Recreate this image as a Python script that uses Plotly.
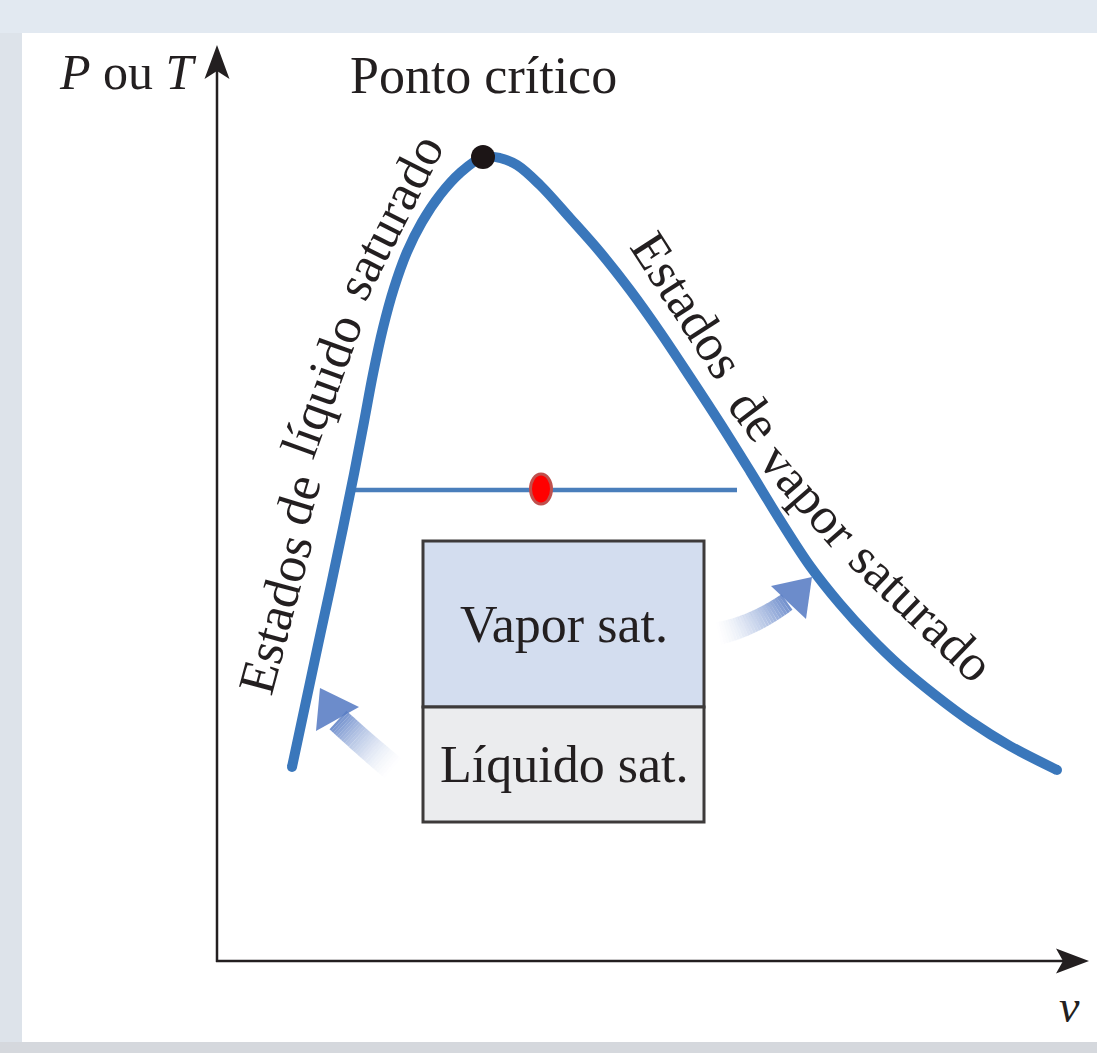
import plotly.graph_objects as go

W, H = 1097, 1053

# ---------------- data (arbitrary units) ----------------
# saturated-liquid branch (left), from low pressure up to the critical point
liq_v = [0.75, 0.88, 1.01, 1.14, 1.26, 1.37, 1.47, 1.56, 1.66, 1.77, 1.90, 2.05, 2.23, 2.43, 2.66]
liq_P = [1.95, 2.56, 3.17, 3.77, 4.34, 4.88, 5.40, 5.88, 6.34, 6.74, 7.10, 7.40, 7.67, 7.89, 8.05]
# saturated-vapor branch (right), from the critical point down
vap_v = [2.66, 2.83, 3.00, 3.23, 3.53, 3.83, 4.13, 4.43, 4.73, 5.03, 5.33, 5.63, 5.93,
         6.23, 6.53, 6.83, 7.18, 7.53, 7.93, 8.40]
vap_P = [8.05, 8.04, 7.97, 7.77, 7.44, 7.10, 6.72, 6.30, 5.85, 5.39, 4.91, 4.42, 3.96,
         3.58, 3.25, 2.96, 2.67, 2.41, 2.16, 1.92]
crit_v = [2.66]
crit_P = [8.05]
# horizontal saturated-mixture line and the state point on it
mix_v = [1.38, 5.20]
mix_P = [4.72, 4.72]
state_v = [3.24]
state_P = [4.73]
# piston/cylinder box: v-extent and P levels (bottom, divider, top)
box_v = [2.06, 4.87]
box_P = [1.40, 2.55, 4.21]
box_labels = ["Líquido sat.", "Vapor sat."]

# ---------------- layout helpers ----------------
X0, Y0, S = 217, 962, 100          # pixel of origin and pixels per unit
x_range = [(0 - X0) / S, (W - X0) / S]
y_range = [(Y0 - H) / S, Y0 / S]

def px(x):  # pixel x -> paper
    return x / W

def py(y):  # pixel y -> paper
    return 1 - y / H

INK = "#231f20"
BLUE = "#3a77bb"
FONT = "Liberation Serif"

fig = go.Figure()

shapes = []
# frame of the photographed slide
shapes.append(dict(type="rect", xref="paper", yref="paper", x0=px(22), x1=px(W), y0=py(1042), y1=py(33),
                   fillcolor="white", line=dict(width=0), layer="below"))
shapes.append(dict(type="rect", xref="paper", yref="paper", x0=0, x1=1, y0=0, y1=py(1042),
                   fillcolor="#d5d8dd", line=dict(width=0), layer="below"))
shapes.append(dict(type="rect", xref="paper", yref="paper", x0=0, x1=px(22), y0=py(1042), y1=py(33),
                   fillcolor="#dde3ea", line=dict(width=0), layer="below"))

# axes with barbed arrowheads
shapes.append(dict(type="line", xref="paper", yref="paper", x0=px(217), x1=px(217), y0=py(962), y1=py(62),
                   line=dict(color=INK, width=2.5)))
shapes.append(dict(type="line", xref="paper", yref="paper", x0=px(216), x1=px(1070), y0=py(961), y1=py(961),
                   line=dict(color=INK, width=2.5)))

def poly(pts):
    return "M " + " L ".join(f"{px(a):.5f},{py(b):.5f}" for a, b in pts) + " Z"

shapes.append(dict(type="path", xref="paper", yref="paper",
                   path=poly([(217, 45), (229.5, 79), (217, 71), (204.5, 79)]),
                   fillcolor=INK, line=dict(width=0)))
shapes.append(dict(type="path", xref="paper", yref="paper",
                   path=poly([(1089, 961), (1056, 973.5), (1063, 961), (1056, 948.5)]),
                   fillcolor=INK, line=dict(width=0)))

# box (two compartments)
shapes.append(dict(type="rect", x0=box_v[0], x1=box_v[1], y0=box_P[1], y1=box_P[2],
                   fillcolor="#d3ddef", line=dict(color="#3d3a3a", width=3)))
shapes.append(dict(type="rect", x0=box_v[0], x1=box_v[1], y0=box_P[0], y1=box_P[1],
                   fillcolor="#ebecee", line=dict(color="#3d3a3a", width=3)))


# gradient arrows (decorative)
def bez(p0, c, p1, t):
    return ((1 - t) ** 2 * p0[0] + 2 * (1 - t) * t * c[0] + t ** 2 * p1[0],
            (1 - t) ** 2 * p0[1] + 2 * (1 - t) * t * c[1] + t ** 2 * p1[1])


def grad_arrow(p0, c, p1, w0, w1, head, n=28, rgb=(88, 124, 196)):
    out = []
    pts = [bez(p0, c, p1, i / n) for i in range(n + 1)]
    for i in range(n):
        a, b = pts[i], pts[i + 1]
        dx, dy = b[0] - a[0], b[1] - a[1]
        L = (dx * dx + dy * dy) ** 0.5
        nx, ny = -dy / L, dx / L
        wa = (w0 + (w1 - w0) * i / n) / 2
        wb = (w0 + (w1 - w0) * (i + 1) / n) / 2
        alpha = 0.85 * ((i + 0.5) / n) ** 1.6
        quad = [(a[0] + nx * wa, a[1] + ny * wa), (b[0] + nx * wb, b[1] + ny * wb),
                (b[0] - nx * wb, b[1] - ny * wb), (a[0] - nx * wa, a[1] - ny * wa)]
        out.append(dict(type="path", xref="paper", yref="paper", path=poly(quad),
                        fillcolor=f"rgba({rgb[0]},{rgb[1]},{rgb[2]},{alpha:.3f})",
                        line=dict(width=0)))
    out.append(dict(type="path", xref="paper", yref="paper", path=poly(head),
                    fillcolor=f"rgba({rgb[0]},{rgb[1]},{rgb[2]},0.88)", line=dict(width=0)))
    return out

shapes += grad_arrow((395, 770), (364, 744), (338, 720), 26, 25,
                     [(320, 688), (316, 731), (359, 707)])
shapes += grad_arrow((716, 634), (752, 627), (787, 602), 23, 19,
                     [(812, 577), (771, 586), (806, 619)])

# state point (ellipse)
shapes.append(dict(type="circle", x0=state_v[0] - 0.105, x1=state_v[0] + 0.105,
                   y0=state_P[0] - 0.15, y1=state_P[0] + 0.15,
                   fillcolor="#ff0000", line=dict(color="#c0504d", width=3), layer="above"))

# ---------------- traces ----------------
fig.add_trace(go.Scatter(x=mix_v, y=mix_P, mode="lines",
                         line=dict(color="#4a7ebb", width=4.5), hoverinfo="skip"))
sat_v = liq_v + vap_v[1:]
sat_P = liq_P + vap_P[1:]
fig.add_trace(go.Scatter(x=sat_v, y=sat_P, mode="lines",
                         line=dict(color=BLUE, width=10, shape="spline", smoothing=1.0),
                         hoverinfo="skip"))
fig.add_trace(go.Scatter(x=[sat_v[0], sat_v[-1]], y=[sat_P[0], sat_P[-1]], mode="markers",
                         marker=dict(color=BLUE, size=10), hoverinfo="skip"))
fig.add_trace(go.Scatter(x=crit_v, y=crit_P, mode="markers",
                         marker=dict(color="#1c1516", size=24), hoverinfo="skip"))

# ---------------- text ----------------
ann = []

def txt(x, y, s, size=52, angle=0, italic=False):
    ann.append(dict(xref="paper", yref="paper", x=px(x), y=py(y), text=s, showarrow=False,
                    textangle=angle, xanchor="center", yanchor="middle",
                    font=dict(family=FONT, size=size, color=INK,
                              style="italic" if italic else "normal")))

txt(128, 72, "<i>P</i> ou <i>T</i>", size=50)
txt(483, 76, "Ponto crítico")
txt(1069, 1006, "v", size=46, italic=True)

# box labels from the box data
mid_x = (box_v[0] + box_v[1]) / 2
for lab, lo, hi in [(box_labels[0], box_P[0], box_P[1]), (box_labels[1], box_P[1], box_P[2])]:
    ann.append(dict(x=mid_x, y=(lo + hi) / 2, text=lab, showarrow=False,
                    xanchor="center", yanchor="middle",
                    font=dict(family=FONT, size=52, color=INK)))

# curved labels along the branches (word by word)
for w, x, y, a in [("Estados", 275, 614, -75), ("de", 297, 500, -73),
                   ("líquido", 321, 386, -70), ("saturado", 390, 217, -63)]:
    txt(x, y, w, angle=a)
for w, x, y, a in [("Estados", 688, 305, 57), ("de", 754, 415, 53),
                   ("vapor", 809, 495, 49), ("saturado", 922, 611, 44)]:
    txt(x, y, w, angle=a)

fig.update_layout(
    width=W, height=H, margin=dict(l=0, r=0, t=0, b=0),
    paper_bgcolor="#e2e9f1", plot_bgcolor="rgba(0,0,0,0)",
    showlegend=False, shapes=shapes, annotations=ann,
    xaxis=dict(range=x_range, visible=False, fixedrange=True),
    yaxis=dict(range=y_range, visible=False, fixedrange=True),
)

fig.write_html("out.html", config={"displayModeBar": False},
               post_script="document.body.style.margin='0';document.body.style.overflow='hidden';")
